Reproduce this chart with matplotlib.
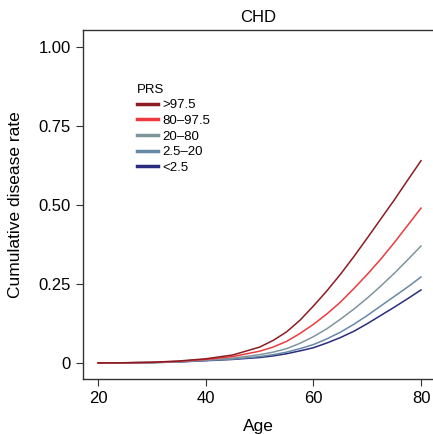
import matplotlib
matplotlib.use("Agg")
import matplotlib.pyplot as plt
from matplotlib.lines import Line2D

#======================================================================#
## data (age, cumulative CHD rate per PRS group)
ages = [20, 25, 30, 35, 40, 45, 50, 52.5, 55, 57.5, 60, 62.5, 65, 67.5, 70, 72.5, 75, 77.5, 80]
prs_gt975 = [0, 0.0005, 0.002, 0.006, 0.013, 0.025, 0.05, 0.071, 0.098, 0.135, 0.18, 0.228, 0.28, 0.336, 0.395, 0.455, 0.515, 0.578, 0.64]
prs_80_975 = [0, 0.0005, 0.0015, 0.005, 0.011, 0.02, 0.037, 0.05, 0.068, 0.093, 0.122, 0.155, 0.192, 0.235, 0.28, 0.328, 0.38, 0.435, 0.49]
prs_20_80 = [0, 0.0004, 0.0012, 0.004, 0.009, 0.015, 0.026, 0.034, 0.045, 0.062, 0.083, 0.108, 0.138, 0.17, 0.205, 0.243, 0.283, 0.326, 0.37]
prs_25_20 = [0, 0.0003, 0.001, 0.003, 0.008, 0.012, 0.02, 0.026, 0.034, 0.045, 0.058, 0.076, 0.097, 0.122, 0.15, 0.18, 0.21, 0.24, 0.272]
prs_lt25 = [0, 0.0003, 0.001, 0.003, 0.007, 0.011, 0.017, 0.022, 0.029, 0.038, 0.048, 0.063, 0.08, 0.10, 0.124, 0.15, 0.176, 0.203, 0.231]
group_labels = [">97.5", "80\u201397.5", "20\u201380", "2.5\u201320", "<2.5"]
group_colors = ["#8b1c22", "#ec3a3f", "#7f959c", "#6689a6", "#2b2c7f"]
x_ticks = [20, 40, 60, 80]
y_ticks = [0, 0.25, 0.50, 0.75, 1.00]
y_tick_labels = ["0", "0.25", "0.50", "0.75", "1.00"]
#======================================================================#

def main():
    plt.rcParams['font.family'] = ['Liberation Sans', 'DejaVu Sans']
    fig = plt.figure(figsize=(4.33, 4.34), dpi=100)
    ax = fig.add_axes([0.192, 0.127, 0.808, 0.804])

    series = [prs_gt975, prs_80_975, prs_20_80, prs_25_20, prs_lt25]
    for vals, col in zip(series[::-1], group_colors[::-1]):       # draw low groups first
        ax.plot(ages, vals, color=col, linewidth=1.1)

    ax.set_xlim(17.2, 82.23)
    ax.set_ylim(-0.0506, 1.054)
    ax.set_xticks(x_ticks)
    ax.set_yticks(y_ticks)
    ax.set_yticklabels(y_tick_labels)
    ax.tick_params(direction='out', length=5, width=0.8, color='#333333', labelsize=12, pad=4)
    for s in ['left', 'bottom', 'top']:
        ax.spines[s].set_color('#333333')
        ax.spines[s].set_linewidth(1.0)
    ax.spines['right'].set_visible(False)

    ax.set_title("CHD", fontsize=12, pad=6)
    ax.set_xlabel("Age", fontsize=12.5, labelpad=9)
    ax.set_ylabel("Cumulative disease rate", fontsize=12.5, labelpad=11)

    handles = [Line2D([0], [0], color=c, linewidth=2.5) for c in group_colors]
    ax.legend(handles, group_labels, title="PRS", loc='upper left', bbox_to_anchor=(0.12, 0.88),
              frameon=False, fontsize=9.5, title_fontsize=9.5, handlelength=1.6,
              handletextpad=0.3, labelspacing=0.26, alignment='left')

    fig.savefig("out.png", dpi=100)

if __name__ == '__main__':
    main()
